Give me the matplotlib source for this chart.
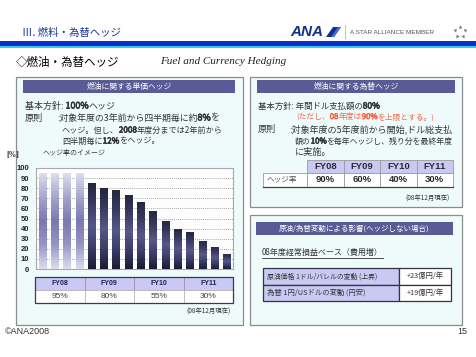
import numpy as np
import matplotlib.pyplot as plt
import matplotlib.patheffects as pe
from matplotlib.patches import Rectangle, Polygon
from matplotlib.colors import LinearSegmentedColormap

plt.rcParams['font.family'] = ['Noto Sans CJK JP', 'DejaVu Sans']

# chart data
hedge_rate = [95, 95, 95, 95, 85, 80, 78, 73, 66, 57, 48, 40, 37, 28, 22, 15]
n_done = 4  # first four bars (already hedged, lighter)
fy_labels = ['FY08', 'FY09', 'FY10', 'FY11']
fuel_pct = ['95%', '80%', '55%', '30%']
fx_pct = ['90%', '60%', '40%', '30%']
impact_labels = ['原油価格 1ドル/バレルの変動 (上昇)', '為替 1円/USドルの変動 (円安)']
impact_values = ['+23億円/年', '+19億円/年']

PANEL = '#effbfb'
HEAD = '#5a5a96'
LAV = '#c9c9f3'
DARK = '#333333'


def line_text(ax, x, y, s, size, r, width=None, bold=(), color=DARK):
    # shrink the line to fit `width`, then draw it piece by piece; bold pieces get a thin stroke
    t = ax.text(0, 0, s, fontsize=size)
    w = t.get_window_extent(renderer=r).width
    t.remove()
    if width is not None and w > width:
        size = size * width / w
    pieces = []
    rest = s
    for b in bold:
        i = rest.index(b)
        if i > 0:
            pieces.append((rest[:i], False))
        pieces.append((b, True))
        rest = rest[i + len(b):]
    if rest:
        pieces.append((rest, False))
    xx = x
    for p, is_bold in pieces:
        eff = [pe.withStroke(linewidth=0.45, foreground=color)] if is_bold else None
        t = ax.text(xx, y, p, fontsize=size, color=color, va='center', ha='left',
                    path_effects=eff)
        xx += t.get_window_extent(renderer=r).width
    return xx


def main():
    fig = plt.figure(figsize=(4.76, 3.57), dpi=100)
    r = fig.canvas.get_renderer()
    ax = fig.add_axes([0, 0, 1, 1])
    ax.set_xlim(0, 476)
    ax.set_ylim(357, 0)
    ax.axis('off')

    # header
    ax.text(22, 33, 'Ⅲ. 燃料・為替ヘッジ', fontsize=7.5, color='#1a3594', va='center')
    ax.text(290, 32, 'ANA', fontsize=11, fontweight='bold', style='italic',
            color='#12318c', va='center', family='Liberation Sans')
    ax.add_patch(Polygon([[326, 37], [333, 27], [341, 27], [334, 37]], closed=True,
                         color='#12318c', lw=0))
    ax.add_patch(Polygon([[331, 37], [338, 27], [341, 27], [334, 37]], closed=True,
                         color='#3d6fd0', lw=0))
    ax.plot([345, 345], [25, 39], color='#bbbbbb', lw=0.6)
    ax.text(350, 32, 'A STAR ALLIANCE MEMBER', fontsize=4.6, color='#555555',
            va='center', family='Liberation Sans')
    for k in range(5):
        a = np.pi / 2 + k * 2 * np.pi / 5
        ax.plot(460 + 5 * np.cos(a), 32 - 5 * np.sin(a), marker=(3, 0, np.degrees(a) - 90),
                ms=3, color='#777777', mew=0)
    ax.add_patch(Rectangle((0, 40.5), 476, 5.3, color='#0a2fd0', lw=0))
    ax.add_patch(Rectangle((0, 45.8), 476, 2.6, color='#3cc8e8', lw=0))

    ax.text(16, 62, '◇燃油・為替ヘッジ', fontsize=8.3, color='black', va='center')
    ax.text(160, 61, 'Fuel and Currency Hedging', fontsize=8, style='italic',
            color='#222222', va='center', family='Liberation Serif')

    # panels
    for (x0, y0, x1, y1) in [(16, 77, 243, 325), (250, 77, 462, 207), (250, 215, 462, 325)]:
        ax.add_patch(Rectangle((x0, y0), x1 - x0, y1 - y0, facecolor=PANEL,
                               edgecolor='#8c8c8c', lw=0.9))
    for (x0, y0, x1, y1, s, sz) in [(23, 80, 235, 93, '燃油に関する単価ヘッジ', 5.6),
                                    (257, 80, 455, 93, '燃油に関する為替ヘッジ', 5.6),
                                    (256, 222, 453, 235, '原油/為替変動による影響(ヘッジしない場合)', 5.4)]:
        ax.add_patch(Rectangle((x0, y0), x1 - x0, y1 - y0, facecolor=HEAD, lw=0))
        ax.text((x0 + x1) / 2, (y0 + y1) / 2, s, fontsize=sz, color='white',
                ha='center', va='center')

    fs = 6.6
    # left panel text
    line_text(ax, 25, 106, '基本方針: 100%ヘッジ', fs, r, 90, bold=['100%'])
    ax.text(25, 118, '原則', fontsize=fs, color=DARK, va='center')
    line_text(ax, 57, 118, ':対象年度の3年前から四半期毎に約8%を', fs, r, 163, bold=['8%'])
    line_text(ax, 62, 130, 'ヘッジ。但し、2008年度分までは2年前から', fs, r, 160, bold=['2008'])
    line_text(ax, 62, 141, '四半期毎に12%をヘッジ。', fs, r, 98, bold=['12%'])
    ax.text(6, 155, '[%]', fontsize=5.5, fontweight='bold', color='#222222', va='center',
            family='Liberation Serif')
    ax.text(43, 153, 'ヘッジ率のイメージ', fontsize=5, color='#333333', va='center')

    # bar chart
    ax2 = fig.add_axes([36 / 476, (357 - 269) / 357, 197 / 476, 101 / 357])
    ax2.set_facecolor('#fdfdfd')
    x = np.arange(len(hedge_rate))
    w = 0.58
    bars = ax2.bar(x, hedge_rate, width=w, color='none', lw=0, zorder=3)
    cm_light = LinearSegmentedColormap.from_list('l', ['#dcdcec', '#9694c4', '#7a78b0',
                                                       '#a6a4cc', '#dcdcec'])
    cm_dark = LinearSegmentedColormap.from_list('d', ['#1c1c36', '#3c3c68', '#58588a',
                                                      '#3a3a62', '#26263e'])
    grad = np.linspace(0, 1, 64).reshape(-1, 1)
    for i, b in enumerate(bars):
        cm = cm_light if i < n_done else cm_dark
        im = ax2.imshow(grad, cmap=cm, aspect='auto', origin='lower', zorder=3,
                        extent=[b.get_x(), b.get_x() + w, 0, b.get_height()])
        im.set_clip_path(b)
    ax2.set_xlim(-0.5, len(hedge_rate) - 0.5)
    ax2.set_ylim(0, 100)
    ax2.set_yticks(range(0, 101, 10))
    ax2.set_xticks([])
    ax2.yaxis.grid(True, linestyle=(0, (1, 1.5)), color='#8a8a8a', lw=0.6, zorder=1)
    ax2.set_axisbelow(True)
    ax2.tick_params(axis='y', length=0, pad=5, labelsize=5.5)
    for lab in ax2.get_yticklabels():
        lab.set_fontweight('bold')
        lab.set_family('Liberation Sans')
        lab.set_color('#222222')
    for sp in ax2.spines.values():
        sp.set_color('#a8a8a8')
        sp.set_linewidth(0.8)

    # table below chart
    cw = (233 - 35) / 4
    for j in range(4):
        cx = 35 + j * cw
        ax.add_patch(Rectangle((cx, 277), cw, 13, facecolor=LAV, edgecolor='#9090b0', lw=0.5))
        ax.add_patch(Rectangle((cx, 290), cw, 12.5, facecolor='white', edgecolor='#b0b0b0', lw=0.5))
        ax.text(cx + cw / 2, 283.5, fy_labels[j], fontsize=5, fontweight='bold',
                color='#20205a', ha='center', va='center', family='Liberation Sans')
        ax.text(cx + cw / 2, 296.3, fuel_pct[j], fontsize=6, color='#444444',
                ha='center', va='center', family='Liberation Sans')
    ax.add_patch(Rectangle((35, 277), 198, 25.5, facecolor='none', edgecolor='#3a3a4a', lw=0.9))
    ax.text(231, 312, '(08年12月現在)', fontsize=4.6, color='#333333', ha='right', va='center')

    # right panel text
    line_text(ax, 258, 106, '基本方針: 年間ドル支払額の80%', fs, r, 122, bold=['80%'])
    line_text(ax, 296, 117, '(ただし、08年度は90%を上限とする。)', fs, r, 138,
              bold=['08', '90%'], color='#f26a4a')
    ax.text(258, 129, '原則', fontsize=fs, color=DARK, va='center')
    line_text(ax, 289, 129, ':対象年度の5年度前から開始,ドル総支払', fs, r, 163)
    line_text(ax, 295, 141, '額の10%を毎年ヘッジし、残り分を最終年度', fs, r, 157, bold=['10%'])
    line_text(ax, 295, 152, 'に実施。', fs, r)

    # right table
    ax.add_patch(Rectangle((263, 173), 44, 14, facecolor='white', edgecolor='#9a9a9a', lw=0.6))
    ax.text(267, 180, 'ヘッジ率', fontsize=5.5, color='#555555', va='center')
    rw = (453 - 307) / 4
    for j in range(4):
        cx = 307 + j * rw
        ax.add_patch(Rectangle((cx, 160), rw, 13, facecolor=LAV, edgecolor='#9a9a9a', lw=0.6))
        ax.add_patch(Rectangle((cx, 173), rw, 14, facecolor='white', edgecolor='#9a9a9a', lw=0.6))
        ax.text(cx + rw / 2, 166.5, fy_labels[j], fontsize=6.8, fontweight='bold',
                color='#2a2a3a', ha='center', va='center', family='Liberation Sans')
        ax.text(cx + rw / 2, 180, fx_pct[j], fontsize=6.8, fontweight='bold',
                color='#2a2a2a', ha='center', va='center', family='Liberation Sans')
    ax.plot([263, 453], [187, 187], color='#404040', lw=0.9)
    ax.text(450, 199, '(08年12月現在)', fontsize=4.6, color='#333333', ha='right', va='center')

    # impact section
    end = line_text(ax, 262, 252, '08年度経常損益ベース（費用増）', 7, r, 122)
    ax.plot([262, end], [258, 258], color=DARK, lw=0.6)
    for k in range(2):
        y0 = 268 + k * 16.5
        ax.add_patch(Rectangle((263, y0), 136, 16.5, facecolor=LAV, edgecolor='#333344', lw=0.9))
        ax.add_patch(Rectangle((399, y0), 52, 16.5, facecolor='white', edgecolor='#333344', lw=0.9))
        line_text(ax, 267, y0 + 8.3, impact_labels[k], 5.3, r, 110)
        ax.text(425, y0 + 8.3, impact_values[k], fontsize=5.3, color='#333333',
                ha='center', va='center')

    # footer
    ax.text(5, 332, '©ANA2008', fontsize=6.5, color='#333333', va='center',
            family='Liberation Sans')
    ax.text(467, 331, '15', fontsize=6.5, color='#333333', va='center', ha='right',
            family='Liberation Sans')

    fig.savefig('out.png', dpi=100)


if __name__ == '__main__':
    main()
